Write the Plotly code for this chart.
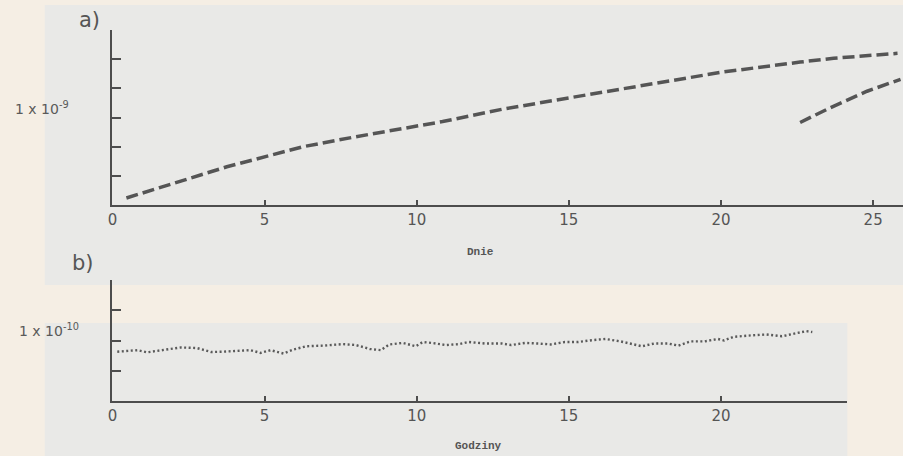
import plotly.graph_objects as go

# ---- data ----
days_main = [0.46, 3.76, 6.27, 8.0, 10.85, 12.8, 15.1, 16.7, 18.1, 20.0, 22.6, 23.7, 25.8]
vals_main = [0.24, 1.31, 2.0, 2.34, 2.86, 3.28, 3.69, 3.97, 4.2, 4.55, 4.9, 5.03, 5.2]

days_second = [22.6, 23.6, 24.8, 25.9]
vals_second = [2.83, 3.34, 3.9, 4.31]

hours = [0.16, 0.82, 1.14, 1.8, 2.25, 2.78, 3.24, 3.66, 4.1, 4.54, 4.87, 5.2, 5.62, 5.95,
         6.37, 6.93, 7.58, 8.0, 8.46, 8.82, 9.1, 9.54, 9.97, 10.2, 10.5, 10.95, 11.4, 11.7,
         12.25, 12.8, 13.1, 13.56, 14.0, 14.4, 14.87, 15.3, 15.75, 16.2, 16.7, 17.06, 17.4,
         17.8, 18.27, 18.6, 19.0, 19.45, 19.9, 20.1, 20.4, 21.0, 21.5, 22.0, 22.4, 22.8, 23.0]
vals_hours = [1.63, 1.68, 1.61, 1.72, 1.77, 1.75, 1.62, 1.63, 1.66, 1.68, 1.59, 1.68, 1.57, 1.70,
              1.81, 1.83, 1.88, 1.85, 1.72, 1.68, 1.87, 1.92, 1.81, 1.95, 1.92, 1.85, 1.88, 1.95,
              1.90, 1.90, 1.85, 1.92, 1.90, 1.87, 1.95, 1.95, 2.01, 2.05, 1.97, 1.90, 1.81,
              1.90, 1.90, 1.83, 1.97, 1.97, 2.05, 2.00, 2.12, 2.17, 2.20, 2.14, 2.23, 2.31, 2.28]

x_ticks_a = [0, 5, 10, 15, 20, 25]
x_ticks_b = [0, 5, 10, 15, 20]
y_ticks_a = [1, 2, 3, 4, 5, 6]
y_ticks_b = [1, 2, 3, 4]

W, H = 903, 456
def px(x):
    return x / W
def py(y):
    return 1 - y / H

ink = "#4d4d4d"
fig = go.Figure()

fig.add_trace(go.Scatter(x=days_main, y=vals_main, mode="lines", xaxis="x", yaxis="y",
                         line=dict(color="#555555", width=3.5, dash="12px,5px"),
                         showlegend=False, hoverinfo="x+y"))
fig.add_trace(go.Scatter(x=days_second, y=vals_second, mode="lines", xaxis="x", yaxis="y",
                         line=dict(color="#555555", width=3.5, dash="12px,5px"),
                         showlegend=False, hoverinfo="x+y"))
fig.add_trace(go.Scatter(x=hours, y=vals_hours, mode="lines", xaxis="x2", yaxis="y2",
                         line=dict(color="#5a5a5a", width=2.4, dash="2px,2.5px"),
                         showlegend=False, hoverinfo="x+y"))

tickfont = dict(family="DejaVu Sans", size=15, color="#555555")
axis_common = dict(showgrid=False, zeroline=False, showline=True, linecolor=ink, linewidth=2,
                   ticks="inside", tickcolor=ink, tickwidth=2)

def note(text, x, y, font):
    return dict(text=text, x=px(x), y=py(y), xref="paper", yref="paper", showarrow=False,
                xanchor="center", yanchor="middle", font=font)

label_font = dict(family="DejaVu Sans", size=21, color="#555555")
unit_font = dict(family="DejaVu Sans", size=14, color="#5a5a5a")
title_font = dict(family="Liberation Mono", size=11, color="#555555")

fig.update_layout(
    width=W, height=H,
    margin=dict(l=0, r=0, t=0, b=0),
    paper_bgcolor="#f5eee4",
    plot_bgcolor="rgba(0,0,0,0)",
    xaxis=dict(domain=[px(108), px(903)], range=[0, (903 - 108) / 30.6], anchor="y",
               tickvals=x_ticks_a, ticklen=5, tickfont=tickfont, **axis_common),
    yaxis=dict(domain=[py(205), py(30)], range=[0, 6], anchor="x",
               tickvals=y_ticks_a, ticklen=9, showticklabels=False, **axis_common),
    xaxis2=dict(domain=[px(108), px(847)], range=[0, (847 - 108) / 30.6], anchor="y2",
                tickvals=x_ticks_b, ticklen=5, tickfont=tickfont, **axis_common),
    yaxis2=dict(domain=[py(401), py(280)], range=[0, 4], anchor="x2",
                tickvals=y_ticks_b, ticklen=9, showticklabels=False, **axis_common),
    shapes=[
        dict(type="rect", xref="paper", yref="paper", x0=px(40), x1=1, y0=py(285), y1=py(5),
             fillcolor="#e9e9e7", line=dict(width=0), layer="below"),
        dict(type="rect", xref="paper", yref="paper", x0=px(40), x1=px(847), y0=0, y1=py(323),
             fillcolor="#e9e9e7", line=dict(width=0), layer="below"),
    ],
    annotations=[
        note("a)", 85, 20, label_font),
        note("b)", 78, 263, label_font),
        note("1 x 10<sup>-9</sup>", 37, 108, unit_font),
        note("1 x 10<sup>-10</sup>", 44, 330, unit_font),
        note("<b>Dnie</b>", 478, 252, title_font),
        note("<b>Godziny</b>", 476, 446, title_font),
    ],
)

fig.write_html(
    "out.html",
    config={"displayModeBar": False},
    post_script="document.body.style.margin='0';document.body.style.background='#f5eee4';",
)
